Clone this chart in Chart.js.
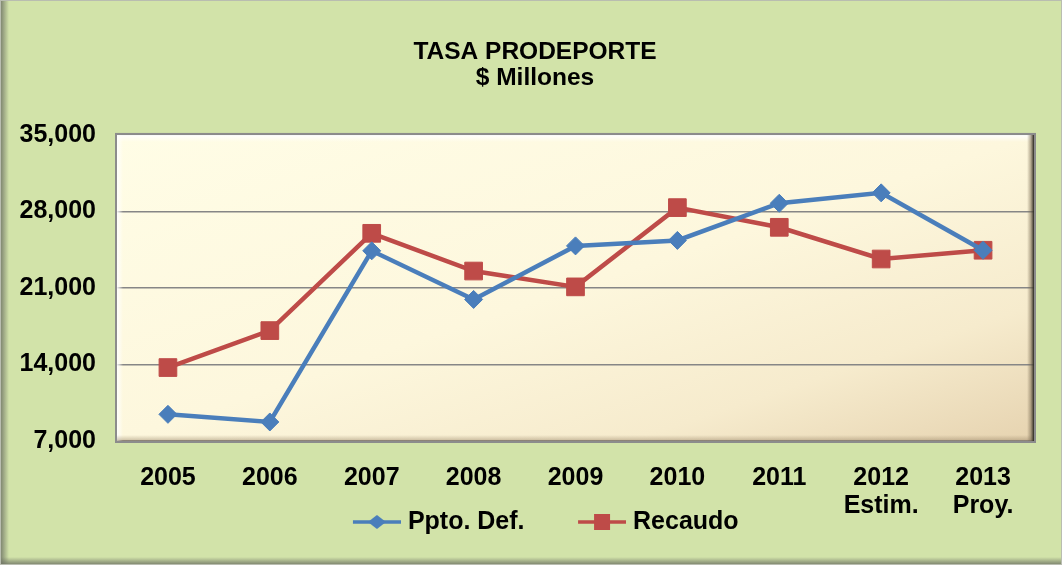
<!DOCTYPE html>
<html>
<head>
<meta charset="utf-8">
<title>Tasa Prodeporte</title>
<script src="https://cdn.jsdelivr.net/npm/chart.js@4.4.0/dist/chart.umd.min.js"></script>
<style>
  body { margin: 0; background: #d2e3a9; }
  canvas { display: block; }
</style>
</head>
<body>
<canvas id="chart" width="1062" height="565"></canvas>
<script>
// data ($ millones)
const years = ['2005', '2006', '2007', '2008', '2009', '2010', '2011', ['2012', 'Estim.'], ['2013', 'Proy.']];
const pptoDef = [9440, 8740, 24400, 19950, 24850, 25350, 28750, 29700, 24450];
const recaudo = [13720, 17100, 26000, 22550, 21100, 28350, 26550, 23650, 24450];
const yTicks = [7000, 14000, 21000, 28000, 35000];

const BLUE = '#4a7ebb';
const RED = '#be4b48';
const FONT = 'Liberation Sans, Arial, sans-serif';

// legend icon: short line with the marker in the middle (excel style)
// line sits in the right part of the image so the items get excel's spacing
function legendIcon(color, kind) {
  const c = document.createElement('canvas');
  c.width = 101; c.height = 20;
  const g = c.getContext('2d');
  g.strokeStyle = color;
  g.lineWidth = 3.5;
  g.beginPath(); g.moveTo(53, 10); g.lineTo(101, 10); g.stroke();
  g.fillStyle = color;
  if (kind == 'diamond') {
    g.beginPath();
    g.moveTo(77, 3); g.lineTo(86, 10); g.lineTo(77, 17); g.lineTo(68, 10);
    g.closePath(); g.fill();
  } else {
    g.fillRect(69, 2, 16, 16);
  }
  return c;
}
const icons = [legendIcon(BLUE, 'diamond'), legendIcon(RED, 'square')];

const backdrop = {
  id: 'backdrop',
  beforeDraw(chart) {
    const ctx = chart.ctx, a = chart.chartArea;
    const W = chart.width, H = chart.height;
    ctx.save();
    ctx.fillStyle = '#d2e3a9';
    ctx.fillRect(0, 0, W, H);
    // soft outer frame
    let g = ctx.createLinearGradient(0, 0, 9, 0);
    g.addColorStop(0, 'rgba(110,115,100,0.9)'); g.addColorStop(1, 'rgba(110,115,100,0)');
    ctx.fillStyle = g; ctx.fillRect(0, 0, 9, H);
    g = ctx.createLinearGradient(0, H - 8, 0, H);
    g.addColorStop(0, 'rgba(110,115,100,0)'); g.addColorStop(1, 'rgba(110,115,100,0.9)');
    ctx.fillStyle = g; ctx.fillRect(0, H - 8, W, 8);
    ctx.strokeStyle = '#b9bdb0'; ctx.lineWidth = 1;
    ctx.strokeRect(0.5, 0.5, W - 1, H - 1);

    // plot area, gradient in the box's own coordinates
    ctx.translate(a.left, a.top);
    ctx.scale(a.right - a.left, a.bottom - a.top);
    g = ctx.createLinearGradient(0, 0, 1, 1);
    g.addColorStop(0, '#fffde6');
    g.addColorStop(0.5, '#fdf7dd');
    g.addColorStop(0.78, '#f6ebcd');
    g.addColorStop(1, '#e6d3b0');
    ctx.fillStyle = g;
    ctx.fillRect(0, 0, 1, 1);
    ctx.restore();
  },
  beforeDatasetsDraw(chart) {
    const ctx = chart.ctx, a = chart.chartArea;
    const w = a.right - a.left, h = a.bottom - a.top;
    ctx.save();
    let g = ctx.createLinearGradient(0, a.top, 0, a.top + 7);
    g.addColorStop(0, 'rgba(255,255,255,1)'); g.addColorStop(1, 'rgba(255,255,255,0)');
    ctx.fillStyle = g; ctx.fillRect(a.left, a.top, w, 7);
    g = ctx.createLinearGradient(a.left, 0, a.left + 6, 0);
    g.addColorStop(0, 'rgba(255,255,255,0.9)'); g.addColorStop(1, 'rgba(255,255,255,0)');
    ctx.fillStyle = g; ctx.fillRect(a.left, a.top, 6, h);
    g = ctx.createLinearGradient(0, a.bottom - 6, 0, a.bottom);
    g.addColorStop(0, 'rgba(150,130,100,0)'); g.addColorStop(1, 'rgba(150,130,100,0.5)');
    ctx.fillStyle = g; ctx.fillRect(a.left, a.bottom - 6, w, 6);
    g = ctx.createLinearGradient(a.right - 7, 0, a.right, 0);
    g.addColorStop(0, 'rgba(120,105,80,0)'); g.addColorStop(0.5, 'rgba(120,105,80,0.5)'); g.addColorStop(1, 'rgba(40,38,32,1)');
    ctx.fillStyle = g; ctx.fillRect(a.right - 7, a.top, 7, h);
    ctx.strokeStyle = '#8c8c8c'; ctx.lineWidth = 2;
    ctx.strokeRect(a.left - 1, a.top - 1, w + 2, h + 2);
    ctx.restore();
  }
};

// title a bit right of the page centre, legend tucked up next to the two-line ticks
const nudge = {
  id: 'nudge',
  afterLayout(chart) {
    chart.titleBlock.left += 13;
    chart.titleBlock.right += 13;
    chart.legend.top -= 15.5;
    chart.legend.bottom -= 15.5;
  }
};

new Chart(document.getElementById('chart'), {
  type: 'line',
  data: {
    labels: years,
    datasets: [
      {
        label: 'Ppto. Def.',
        data: pptoDef,
        borderColor: BLUE,
        backgroundColor: BLUE,
        borderWidth: 4.5,
        pointStyle: 'rectRot',
        pointRadius: 9,
        pointBorderWidth: 1,
        tension: 0
      },
      {
        label: 'Recaudo',
        data: recaudo,
        borderColor: RED,
        backgroundColor: RED,
        borderWidth: 4.5,
        pointStyle: 'rect',
        pointRadius: 12.5,
        pointBorderWidth: 1,
        tension: 0
      }
    ]
  },
  options: {
    responsive: false,
    animation: false,
    events: [],
    layout: { padding: { left: 10, right: 28, top: 0, bottom: 5 } },
    scales: {
      x: {
        offset: true,
        grid: { display: false, drawTicks: false },
        border: { display: false },
        ticks: {
          color: '#000',
          padding: 23,
          font: { family: FONT, size: 25, weight: 'bold', lineHeight: 1.12 },
          maxRotation: 0,
          autoSkip: false
        },
        afterFit(scale) { scale.height = 78; }
      },
      y: {
        min: 7000,
        max: 35000,
        afterBuildTicks(scale) { scale.ticks = yTicks.map(v => ({ value: v })); },
        grid: { color: '#868686', lineWidth: 1.5, drawTicks: false },
        border: { display: false },
        ticks: {
          color: '#000',
          padding: 21,
          font: { family: FONT, size: 25, weight: 'bold' },
          callback: v => v.toLocaleString('en-US')
        },
        afterFit(scale) { scale.width = 107; }
      }
    },
    plugins: {
      title: {
        display: true,
        text: ['TASA PRODEPORTE', '$ Millones'],
        color: '#000',
        font: { family: FONT, size: 24.5, weight: 'bold', lineHeight: 1.06 },
        padding: { top: 39, bottom: 44 }
      },
      legend: {
        position: 'bottom',
        labels: {
          color: '#000',
          usePointStyle: true,
          pointStyleWidth: 90,
          padding: 6,
          font: { family: FONT, size: 25, weight: 'bold' },
          generateLabels(chart) {
            const items = Chart.defaults.plugins.legend.labels.generateLabels(chart);
            items.forEach((it, i) => { it.pointStyle = icons[i]; });
            return items;
          }
        }
      },
      tooltip: { enabled: false }
    }
  },
  plugins: [backdrop, nudge]
});
</script>
</body>
</html>
